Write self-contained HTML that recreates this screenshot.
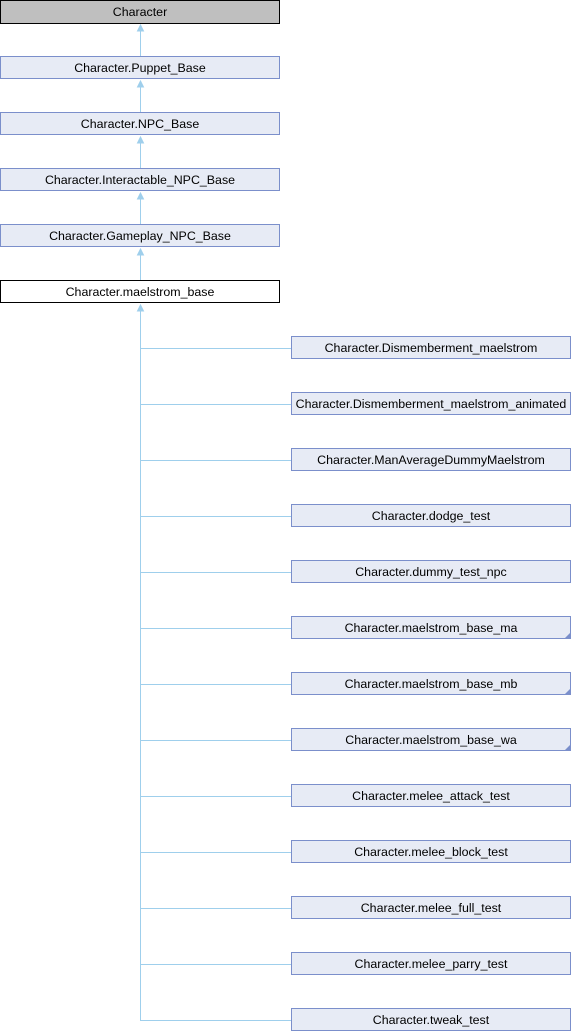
<!DOCTYPE html>
<html><head><meta charset="utf-8"><style>html,body{margin:0;padding:0;background:#fff}svg{display:block}text{font-family:"Liberation Sans",sans-serif;font-size:12.4px;fill:#000}</style></head>
<body>
<svg width="572" height="1032" viewBox="0 0 572 1032" xmlns="http://www.w3.org/2000/svg">
<defs><marker id="a" markerWidth="8" markerHeight="8" refX="4" refY="1" orient="0" markerUnits="userSpaceOnUse"><path d="M1,7 L4,1 L7,7 Z" fill="#9fcfec" stroke="#9fcfec"/></marker></defs>
<g stroke="#9fcfec" stroke-width="1" fill="none">
<line x1="140.5" y1="56" x2="140.5" y2="25" marker-end="url(#a)"/>
<line x1="140.5" y1="112" x2="140.5" y2="81" marker-end="url(#a)"/>
<line x1="140.5" y1="168" x2="140.5" y2="137" marker-end="url(#a)"/>
<line x1="140.5" y1="224" x2="140.5" y2="193" marker-end="url(#a)"/>
<line x1="140.5" y1="280" x2="140.5" y2="249" marker-end="url(#a)"/>
<line x1="140.5" y1="1020.5" x2="140.5" y2="305" marker-end="url(#a)"/>
<path d="M140,348.5H291M140,404.5H291M140,460.5H291M140,516.5H291M140,572.5H291M140,628.5H291M140,684.5H291M140,740.5H291M140,796.5H291M140,852.5H291M140,908.5H291M140,964.5H291M140,1020.5H291"/>
</g>
<rect x="0.5" y="0.5" width="279" height="23" fill="#bfbfbf" stroke="#000"/>
<text x="140" y="16" text-anchor="middle">Character</text>
<g fill="#e7ebf5" stroke="#7b8fcb">
<rect x="0.5" y="56.5" width="279" height="22"/>
<rect x="0.5" y="112.5" width="279" height="22"/>
<rect x="0.5" y="168.5" width="279" height="22"/>
<rect x="0.5" y="224.5" width="279" height="22"/>
</g>
<rect x="0.5" y="280.5" width="279" height="22" fill="#fff" stroke="#000"/>
<text x="140" y="72" text-anchor="middle">Character.Puppet_Base</text>
<text x="140" y="128" text-anchor="middle">Character.NPC_Base</text>
<text x="140" y="184" text-anchor="middle">Character.Interactable_NPC_Base</text>
<text x="140" y="240" text-anchor="middle">Character.Gameplay_NPC_Base</text>
<text x="140" y="296" text-anchor="middle">Character.maelstrom_base</text>
<g fill="#e7ebf5" stroke="#7b8fcb">
<rect x="291.5" y="336.5" width="279" height="22"/>
<rect x="291.5" y="392.5" width="279" height="22"/>
<rect x="291.5" y="448.5" width="279" height="22"/>
<rect x="291.5" y="504.5" width="279" height="22"/>
<rect x="291.5" y="560.5" width="279" height="22"/>
<rect x="291.5" y="616.5" width="279" height="22"/>
<rect x="291.5" y="672.5" width="279" height="22"/>
<rect x="291.5" y="728.5" width="279" height="22"/>
<rect x="291.5" y="784.5" width="279" height="22"/>
<rect x="291.5" y="840.5" width="279" height="22"/>
<rect x="291.5" y="896.5" width="279" height="22"/>
<rect x="291.5" y="952.5" width="279" height="22"/>
<rect x="291.5" y="1008.5" width="279" height="22"/>
</g>
<g fill="#7b8fcb">
<path d="M571,632 L571,639 L564,639Z"/>
<path d="M571,688 L571,695 L564,695Z"/>
<path d="M571,744 L571,751 L564,751Z"/>
</g>
<g text-anchor="middle">
<text x="431" y="352">Character.Dismemberment_maelstrom</text>
<text x="431" y="408">Character.Dismemberment_maelstrom_animated</text>
<text x="431" y="464">Character.ManAverageDummyMaelstrom</text>
<text x="431" y="520">Character.dodge_test</text>
<text x="431" y="576">Character.dummy_test_npc</text>
<text x="431" y="632">Character.maelstrom_base_ma</text>
<text x="431" y="688">Character.maelstrom_base_mb</text>
<text x="431" y="744">Character.maelstrom_base_wa</text>
<text x="431" y="800">Character.melee_attack_test</text>
<text x="431" y="856">Character.melee_block_test</text>
<text x="431" y="912">Character.melee_full_test</text>
<text x="431" y="968">Character.melee_parry_test</text>
<text x="431" y="1024">Character.tweak_test</text>
</g>
</svg>
</body></html>
